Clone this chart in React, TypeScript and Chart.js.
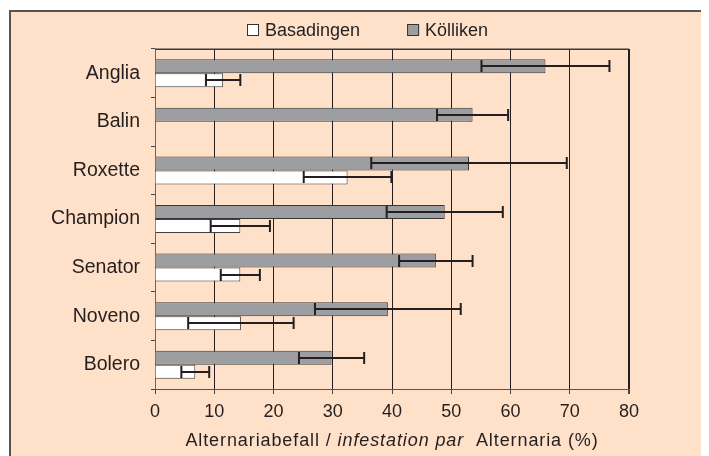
import React, { useEffect, useRef } from "react";
import { Chart, registerables } from "chart.js";

Chart.register(...registerables);

// ---- Data ----
const categories = ["Anglia", "Balin", "Roxette", "Champion", "Senator", "Noveno", "Bolero"];
const seriesNames = ["Basadingen", "Kölliken"];
const basadingenValues = [11.5, 0, 32.5, 14.4, 14.4, 14.5, 6.8];
const basadingenErrors = [2.9, 0, 7.4, 5.0, 3.3, 8.9, 2.35];
const koellikenValues = [65.9, 53.6, 53.0, 48.9, 47.4, 39.3, 29.8];
const koellikenErrors = [10.8, 6.0, 16.5, 9.8, 6.2, 12.3, 5.5];
const xMin = 0;
const xMax = 80;
const xStep = 10;
const axisTitleParts = [
  { text: "Alternariabefall / ", italic: false },
  { text: "infestation par", italic: true },
  { text: "  Alternaria (%)", italic: false },
];

// ---- Styles ----
const PEACH = "#FFE0C8";
const GRAY = "#9D9EA2";
const WHITE = "#FFFFFF";
const INK = "#231F20";
const FONT = "'Liberation Sans', Arial, sans-serif";

const errorBarPlugin = {
  id: "errorBars",
  afterDatasetsDraw(chart: any) {
    const ctx = chart.ctx;
    const xs = chart.scales.x;
    chart.data.datasets.forEach((ds: any, i: number) => {
      const meta = chart.getDatasetMeta(i);
      meta.data.forEach((bar: any, j: number) => {
        const v = ds.data[j];
        const e = ds.errors[j];
        if (!v || !e) return;
        const x0 = xs.getPixelForValue(v - e);
        const x1 = xs.getPixelForValue(v + e);
        const y = Math.round(bar.y);
        ctx.save();
        ctx.strokeStyle = INK;
        ctx.lineWidth = 2;
        ctx.beginPath();
        ctx.moveTo(x0, y);
        ctx.lineTo(x1, y);
        ctx.moveTo(x0, y - 6);
        ctx.lineTo(x0, y + 6);
        ctx.moveTo(x1, y - 6);
        ctx.lineTo(x1, y + 6);
        ctx.stroke();
        ctx.restore();
      });
    });
  },
};

const decorPlugin = {
  id: "decor",
  afterDraw(chart: any) {
    const ctx = chart.ctx;
    const area = chart.chartArea;
    ctx.save();
    // top frame line of plot area
    ctx.strokeStyle = "#3a3a3a";
    ctx.lineWidth = 1.5;
    ctx.beginPath();
    ctx.moveTo(area.left, Math.round(area.top) + 0.25);
    ctx.lineTo(area.right, Math.round(area.top) + 0.25);
    ctx.stroke();

    // legend (Basadingen, Kölliken)
    ctx.font = `18px ${FONT}`;
    ctx.textBaseline = "alphabetic";
    ctx.textAlign = "left";
    const fills = [WHITE, GRAY];
    let x = 239;
    const boxTop = 16;
    seriesNames.forEach((name, i) => {
      ctx.fillStyle = fills[i];
      ctx.fillRect(x, boxTop, 12, 12);
      ctx.strokeStyle = "#333";
      ctx.lineWidth = 1;
      ctx.strokeRect(x + 0.5, boxTop + 0.5, 11, 11);
      ctx.fillStyle = INK;
      ctx.fillText(name, x + 18, 27.5);
      x += 18 + ctx.measureText(name).width + 47;
    });

    // x axis title with italic part
    const setFont = (italic: boolean) => {
      ctx.font = `${italic ? "italic " : ""}18px ${FONT}`;
    };
    try {
      (ctx as any).letterSpacing = "0.9px";
    } catch (e) {}
    let total = 0;
    axisTitleParts.forEach((p) => {
      setFont(p.italic);
      total += ctx.measureText(p.text).width;
    });
    let tx = (area.left + area.right) / 2 - total / 2;
    ctx.fillStyle = INK;
    axisTitleParts.forEach((p) => {
      setFont(p.italic);
      ctx.fillText(p.text, tx, 438);
      tx += ctx.measureText(p.text).width;
    });
    try {
      (ctx as any).letterSpacing = "0px";
    } catch (e) {}
    ctx.restore();
  },
};

export default function App() {
  const canvasRef = useRef<HTMLCanvasElement | null>(null);

  useEffect(() => {
    if (!canvasRef.current) return;
    const chart = new Chart(canvasRef.current, {
      type: "bar",
      data: {
        labels: categories,
        datasets: [
          {
            label: seriesNames[1],
            data: koellikenValues,
            errors: koellikenErrors,
            backgroundColor: GRAY,
            borderColor: "#353535",
            borderWidth: 1,
            categoryPercentage: 0.577,
            barPercentage: 1.0,
          } as any,
          {
            label: seriesNames[0],
            data: basadingenValues,
            errors: basadingenErrors,
            backgroundColor: WHITE,
            borderColor: "#404040",
            borderWidth: 1,
            categoryPercentage: 0.577,
            barPercentage: 1.0,
          } as any,
        ],
      },
      options: {
        indexAxis: "y",
        animation: false,
        responsive: false,
        maintainAspectRatio: false,
        layout: { padding: { top: 41, right: 80, left: 0, bottom: 0 } },
        plugins: {
          legend: { display: false },
          tooltip: { enabled: false },
          title: { display: false },
        },
        scales: {
          x: {
            type: "linear",
            min: xMin,
            max: xMax,
            ticks: {
              stepSize: xStep,
              color: INK,
              padding: 7,
              font: { family: FONT, size: 18 },
            },
            grid: {
              color: (c: any) => (c.tick && c.tick.value === xMin ? "#666" : INK),
              lineWidth: (c: any) => (c.tick && c.tick.value === xMax ? 2 : 1),
              tickColor: "#444",
              drawTicks: true,
              tickLength: 5,
            },
            border: { display: true, color: "#555", width: 1 },
            afterFit: (scale: any) => {
              scale.height = 67;
            },
          },
          y: {
            type: "category",
            ticks: {
              color: INK,
              padding: 11,
              font: { family: FONT, size: 19.5 },
            },
            grid: {
              drawOnChartArea: false,
              drawTicks: true,
              tickLength: 4,
              color: "#444",
              offset: true,
            },
            border: { display: true, color: "#666", width: 1 },
            afterFit: (scale: any) => {
              scale.width = 147;
            },
          },
        },
      },
      plugins: [errorBarPlugin, decorPlugin],
    } as any);
    return () => chart.destroy();
  }, []);

  return (
    <div style={{ position: "relative", width: 701, height: 448, overflow: "hidden" }}>
      <div
        style={{
          position: "absolute",
          left: 1,
          top: 2,
          width: 760,
          height: 520,
          border: "2px solid #555",
          background: PEACH,
          boxSizing: "border-box",
        }}
      />
      <div style={{ position: "absolute", left: 0, top: 0, width: 701, height: 448 }}>
        <canvas ref={canvasRef} width={701} height={448} style={{ display: "block" }} />
      </div>
    </div>
  );
}
